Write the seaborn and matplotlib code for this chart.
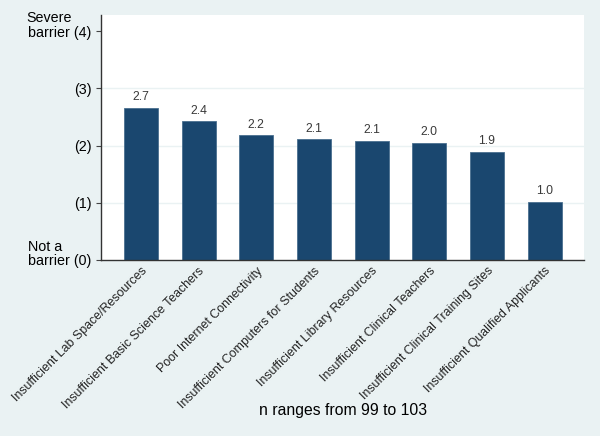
import matplotlib
matplotlib.use("Agg")
import matplotlib.pyplot as plt
import seaborn as sns
import pandas as pd

categories = [
    "Insufficient Lab Space/Resources",
    "Insufficient Basic Science Teachers",
    "Poor Internet Connectivity",
    "Insufficient Computers for Students",
    "Insufficient Library Resources",
    "Insufficient Clinical Teachers",
    "Insufficient Clinical Training Sites",
    "Insufficient Qualified Applicants",
]
values = [2.66, 2.42, 2.18, 2.11, 2.08, 2.05, 1.89, 1.02]
y_ticks = [0, 1, 2, 3, 4]
y_tick_labels = ["barrier (0)", "(1)", "(2)", "(3)", "barrier (4)"]
y_extra = {4: "Severe", 0: "Not a"}
x_title = "n ranges from 99 to 103"

sns.set_theme(style="white")
plt.rcParams["font.family"] = ["Liberation Sans", "DejaVu Sans"]

bg = "#eaf2f3"
bar_color = "#1a476f"

df = pd.DataFrame({"cat": categories, "val": values})

fig = plt.figure(figsize=(6.0, 4.36), dpi=100, facecolor=bg)
ax = fig.add_axes([101 / 600, 1 - 260 / 436, (584 - 101) / 600, (260 - 15) / 436])
ax.set_facecolor("white")

sns.barplot(data=df, x="cat", y="val", color=bar_color, saturation=1,
            width=0.59, ax=ax, edgecolor="#4a6f8f", linewidth=0.6)

for i, v in enumerate(values):
    ax.text(i, v + 0.08, f"{v:.1f}", ha="center", va="bottom", fontsize=8.8, color="#3a3a3a")

ax.set_xlim(-0.69, 7.68)
ax.set_ylim(0, 4.28)
ax.set_yticks(y_ticks)
ax.set_yticklabels(y_tick_labels, fontsize=10.3, color="black")
ax.set_xticks(range(len(categories)))
ax.set_xticklabels(categories, rotation=45, ha="right", rotation_mode="anchor",
                   fontsize=8.9, color="#222222")
ax.tick_params(axis="x", length=0, pad=3.5)
ax.tick_params(axis="y", length=3.6, width=0.8, color="#444444", pad=3, left=True)

ytrans = ax.get_yaxis_transform()
for yv, txt in y_extra.items():
    dx = -75 if yv == 4 else -73
    ax.annotate(txt, xy=(0, yv), xycoords=ytrans, xytext=(dx, 15),
                textcoords="offset pixels", ha="left", va="center_baseline",
                fontsize=10.3, color="black", annotation_clip=False)

for y in [1, 2, 3]:
    ax.axhline(y, color="#eaf2f3", linewidth=1.0, zorder=0)

ax.set_xlabel("")
ax.set_ylabel("")
for s in ["top", "right"]:
    ax.spines[s].set_visible(False)
for s in ["left", "bottom"]:
    ax.spines[s].set_color("#333333")
    ax.spines[s].set_linewidth(1.0)

fig.text(343 / 600, 1 - 410 / 436, x_title, ha="center", va="center", fontsize=11.3, color="black")

fig.savefig("out.png", dpi=100, facecolor=bg)
